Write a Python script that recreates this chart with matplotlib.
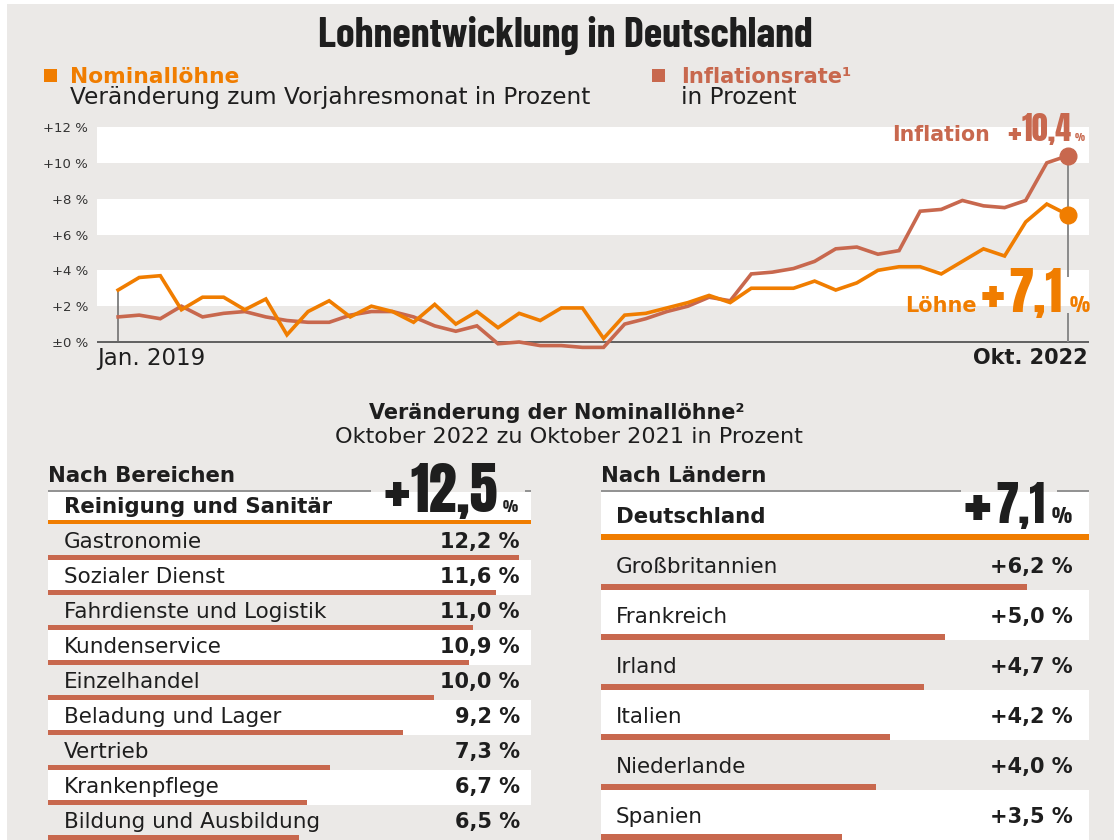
import numpy as np
import pandas as pd
import matplotlib
matplotlib.use("Agg")
import logging
logging.getLogger("matplotlib.font_manager").setLevel(logging.ERROR)
import matplotlib.pyplot as plt
from matplotlib.patches import Rectangle

# ---------------- data ----------------
monate = pd.date_range("2019-01-01", "2022-10-01", freq="MS")
loehne = [2.9, 3.6, 3.7, 1.8, 2.5, 2.5, 1.8, 2.4, 0.4, 1.7, 2.3, 1.4,
          2.0, 1.7, 1.1, 2.1, 1.0, 1.7, 0.8, 1.6, 1.2, 1.9, 1.9, 0.2,
          1.5, 1.6, 1.9, 2.2, 2.6, 2.2, 3.0, 3.0, 3.0, 3.4, 2.9, 3.3,
          4.0, 4.2, 4.2, 3.8, 4.5, 5.2, 4.8, 6.7, 7.7, 7.1]
inflation = [1.4, 1.5, 1.3, 2.0, 1.4, 1.6, 1.7, 1.4, 1.2, 1.1, 1.1, 1.5,
             1.7, 1.7, 1.4, 0.9, 0.6, 0.9, -0.1, 0.0, -0.2, -0.2, -0.3, -0.3,
             1.0, 1.3, 1.7, 2.0, 2.5, 2.3, 3.8, 3.9, 4.1, 4.5, 5.2, 5.3,
             4.9, 5.1, 7.3, 7.4, 7.9, 7.6, 7.5, 7.9, 10.0, 10.4]
y_ticks = [0, 2, 4, 6, 8, 10, 12]
y_ticklabels = ["±0 %", "+2 %", "+4 %", "+6 %", "+8 %", "+10 %", "+12 %"]
x_labels = ["Jan. 2019", "Okt. 2022"]

bereiche = ["Reinigung und Sanitär", "Gastronomie", "Sozialer Dienst",
            "Fahrdienste und Logistik", "Kundenservice", "Einzelhandel",
            "Beladung und Lager", "Vertrieb", "Krankenpflege",
            "Bildung und Ausbildung"]
bereiche_werte = [12.5, 12.2, 11.6, 11.0, 10.9, 10.0, 9.2, 7.3, 6.7, 6.5]

laender = ["Deutschland", "Großbritannien", "Frankreich", "Irland",
           "Italien", "Niederlande", "Spanien"]
laender_werte = [7.1, 6.2, 5.0, 4.7, 4.2, 4.0, 3.5]

# ---------------- style ----------------
BG = "#EBE9E7"
ORANGE = "#F07D00"
RED = "#C8684E"
DARK = "#1E1E1E"
GRAY = "#8A8A8A"
COND = ["Barlow Condensed", "DejaVu Sans"]                 # title
NUMF = ["Anton", "Bebas Neue", "DejaVu Sans"]              # big numbers
SANS = ["DejaVu Sans"]

W, H = 1114, 840
fig = plt.figure(figsize=(W / 100, H / 100), dpi=100)
fig.patch.set_facecolor(BG)
renderer = fig.canvas.get_renderer()


def fax(x0, y0, x1, y1, z):
    """axes placed by pixel box (top-left origin)"""
    return fig.add_axes([x0 / W, 1 - y1 / H, (x1 - x0) / W, (y1 - y0) / H], zorder=z)


def fit(t, width):
    """scale a text's font size so that it is `width` pixels wide"""
    for _ in range(2):
        bb = t.get_window_extent(renderer)
        t.set_fontsize(t.get_fontsize() * width / bb.width)
    return t


# bottom layer: white border strips
bgax = fax(0, 0, W, H, 0)
bgax.set_xlim(0, W); bgax.set_ylim(H, 0); bgax.axis("off")
bgax.add_patch(Rectangle((0, 0), 7, H, color="white", lw=0))
bgax.add_patch(Rectangle((0, 0), W, 4, color="white", lw=0))

# overlay for text
ov = fax(0, 0, W, H, 10)
ov.set_xlim(0, W); ov.set_ylim(H, 0); ov.axis("off")
ov.patch.set_alpha(0)


def T(x, y, s, ha="left", size=15, bold=False, fam=SANS, color=DARK,
      width=None, va="baseline"):
    t = ov.text(x, y, s, ha=ha, va=va, fontsize=size,
                fontweight="bold" if bold else "normal", family=fam, color=color)
    if width is not None:
        fit(t, width)
    return t


def fmt(v, plus=False):
    s = f"{v:.1f}".replace(".", ",") + " %"
    return ("+" + s) if plus else s


def bignum(v, right, base, dw, px, py, pw, pctx, pctw, color=DARK):
    """large condensed '+value %' label: plus sign, digits, small percent"""
    T(px, py, "+", ha="center", va="center", size=30, fam=NUMF, color=color,
      width=pw * 1.15)
    T(right, base, f"{v:.1f}".replace(".", ","), ha="right", size=40,
      fam=NUMF, color=color, width=dw)
    T(pctx, base, "%", size=16, fam=NUMF, color=color, width=pctw)


# ---------------- header ----------------
T(565, 47, "Lohnentwicklung in Deutschland", ha="center", size=26, bold=True,
  fam=COND, width=494)
ov.add_patch(Rectangle((44, 69), 13, 13, color=ORANGE, lw=0))
T(70, 83, "Nominallöhne", size=15.5, bold=True, color=ORANGE, width=170)
T(70, 104, "Veränderung zum Vorjahresmonat in Prozent", size=16, width=520)
ov.add_patch(Rectangle((652, 69), 13, 13, color=RED, lw=0))
T(681, 83, "Inflationsrate¹", size=15.5, bold=True, color=RED, width=170)
T(681, 104, "in Prozent", size=16, width=116)

# ---------------- line chart ----------------
# 0 % at y=342 px, 12 % at y=127 px
ppu = (342 - 127) / 12.0
ylo, yhi = -0.5, 12.6
ax = fax(97, 127 - (yhi - 12) * ppu, 1089, 342 + (0 - ylo) * ppu, 5)
ax.patch.set_alpha(0)
x = np.arange(len(monate))
ax.set_xlim(-1, len(monate))
ax.set_ylim(ylo, yhi)
for lo in (2, 6, 10):
    ax.axhspan(lo, lo + 2, color="white", lw=0, zorder=0)
for s in ax.spines.values():
    s.set_visible(False)
ax.axhline(0, color="#555555", lw=1.3, zorder=1)
ax.set_xticks([])
ax.set_yticks(y_ticks)
ax.set_yticklabels(y_ticklabels, fontsize=9.5, color="#333333", family=SANS)
ax.tick_params(axis="y", length=0, pad=6.5)

ax.vlines(x[0], 0, loehne[0], color="#666666", lw=1.1, zorder=2)
ax.vlines(x[-1], 3.6, inflation[-1], color=GRAY, lw=1.4, zorder=2)
ax.vlines(x[-1], 0, 1.6, color=GRAY, lw=1.4, zorder=2)

ax.plot(x, inflation, color=RED, lw=2.6, zorder=3, solid_joinstyle="miter")
ax.plot(x, loehne, color=ORANGE, lw=2.6, zorder=4, solid_joinstyle="miter")
ax.plot(x[-1], inflation[-1], "o", color=RED, ms=12, zorder=5)
ax.plot(x[-1], loehne[-1], "o", color=ORANGE, ms=12, zorder=5)

T(97, 365, x_labels[0], size=16.5)
T(1088, 364, x_labels[1], ha="right", size=15, bold=True)

# end annotations
T(990, 141, "Inflation", ha="right", size=14.8, bold=True, color=RED)
bignum(inflation[-1], 1072, 141, 50, 1014, 131, 12, 1075, 10, color=RED)
T(977, 312, "Löhne", ha="right", size=15, bold=True, color=ORANGE)
bignum(loehne[-1], 1062, 312, 54, 992.5, 292, 21, 1070, 20, color=ORANGE)

# ---------------- subtitle ----------------
T(557, 419, "Veränderung der Nominallöhne²", ha="center", size=15, bold=True,
  width=375)
T(569, 443, "Oktober 2022 zu Oktober 2021 in Prozent", ha="center", size=15,
  width=468)

# ---------------- left table ----------------
L0, L1 = 48, 531
lt = fax(L0, 490, L1, 840, 4)
lt.set_xlim(0, bereiche_werte[0])
lt.set_ylim(840, 490)
lt.axis("off")
lt.patch.set_alpha(0)
lt.axhspan(492, 520, color="white", lw=0, zorder=0)
lt.barh(522.2, bereiche_werte[0], height=4.5, left=0, color=ORANGE, zorder=2)
LP = 35
for k in range(1, len(bereiche)):
    top = 525 + LP * (k - 1)
    if k % 2 == 0:
        lt.axhspan(top, top + LP, color="white", lw=0, zorder=0)
    lt.barh(top + LP - 2.5, bereiche_werte[k], height=5, left=0, color=RED, zorder=2)

T(48, 482, "Nach Bereichen", size=15.3, bold=True)
ov.hlines(490.7, 48, 371, color=GRAY, lw=1.3)
ov.hlines(490.7, 525, 531, color=GRAY, lw=1.3)
T(64, 513, bereiche[0], size=15.3, bold=True)
bignum(bereiche_werte[0], 498, 512, 88, 396.5, 490, 23, 503, 15)
for k in range(1, len(bereiche)):
    base = 548.3 + LP * (k - 1)
    T(64, base, bereiche[k], size=15.5)
    T(520, base, fmt(bereiche_werte[k]), ha="right", size=15, bold=True)

# ---------------- right table ----------------
R0, R1 = 601, 1089
rt = fax(R0, 490, R1, 840, 4)
rt.set_xlim(0, laender_werte[0])
rt.set_ylim(840, 490)
rt.axis("off")
rt.patch.set_alpha(0)
rt.axhspan(492, 534, color="white", lw=0, zorder=0)
rt.barh(537, laender_werte[0], height=6, left=0, color=ORANGE, zorder=2)
RP = 50
for k in range(1, len(laender)):
    top = 540 + RP * (k - 1)
    if k % 2 == 0:
        rt.axhspan(top, top + RP, color="white", lw=0, zorder=0)
    rt.barh(top + RP - 3, laender_werte[k], height=6, left=0, color=RED, zorder=2)

T(601, 482, "Nach Ländern", size=15.3, bold=True)
ov.hlines(490.7, 601, 961, color=GRAY, lw=1.3)
ov.hlines(490.7, 1057, 1089, color=GRAY, lw=1.3)
T(616, 522.7, laender[0], size=15.3, bold=True)
bignum(laender_werte[0], 1045, 522.7, 50, 977, 504, 24, 1052, 20)
for k in range(1, len(laender)):
    base = 573 + RP * (k - 1)
    T(616, base, laender[k], size=15.5)
    T(1073, base, fmt(laender_werte[k], plus=True), ha="right", size=15, bold=True)

fig.savefig("out.png", dpi=100, facecolor=fig.get_facecolor())
